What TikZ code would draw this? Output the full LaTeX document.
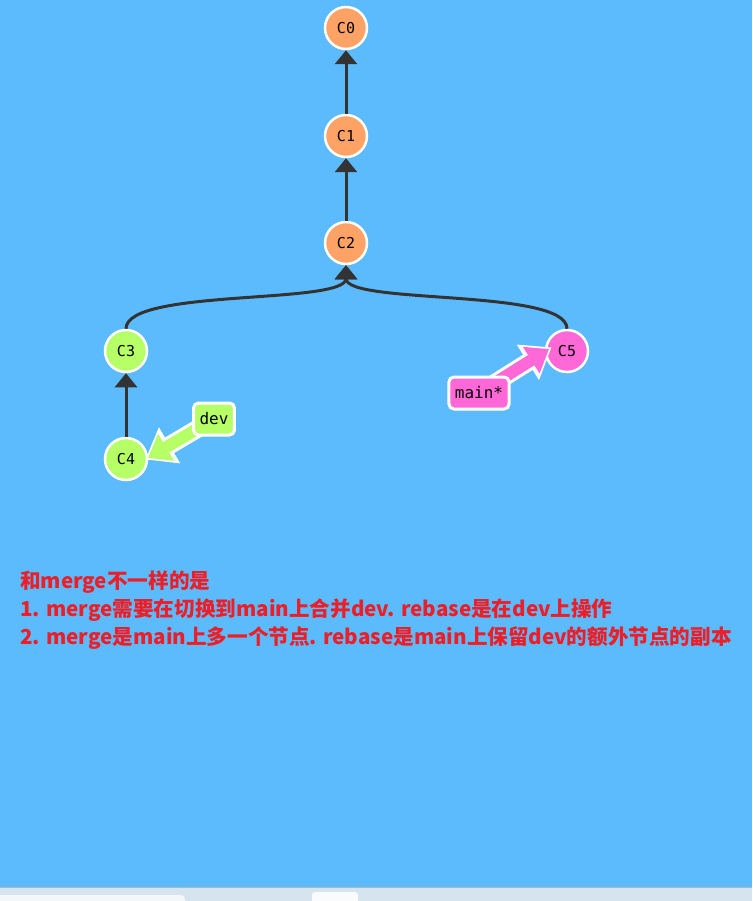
\documentclass[tikz,border=0pt]{standalone}
\usepackage{fontspec}
\newfontfamily\cjk{Noto Sans CJK SC}
\newfontfamily\cmono{DejaVu Sans Mono}
\usetikzlibrary{arrows.meta}
\definecolor{bgblue}{RGB}{92,187,252}
\definecolor{corange}{RGB}{255,162,102}
\definecolor{cgreen}{RGB}{182,255,102}
\definecolor{cpink}{RGB}{255,104,214}
\definecolor{darkline}{RGB}{51,51,51}
\definecolor{txtred}{RGB}{236,30,40}
\definecolor{barfill}{RGB}{214,228,240}
\definecolor{barline}{RGB}{170,182,194}
\pgfdeclarelayer{back}
\pgfdeclarelayer{arr}
\pgfdeclarelayer{front}
\pgfsetlayers{back,main,arr,front}
\tikzset{
  commit/.style={circle, minimum size=42pt, inner sep=0pt, draw=white, line width=2.5pt,
    font=\cmono\fontsize{15}{15}\selectfont},
  link/.style={draw=darkline, line width=3pt, -{Triangle[width=22pt,length=14pt]}},
  branch/.style={rounded corners=5pt, draw=white, line width=3pt, inner xsep=6pt,
    minimum height=32pt, font=\cmono\fontsize{16}{16}\selectfont},
  branchto/.style={draw=#1, line width=12pt, -{Triangle[width=30pt,length=21pt]},
    preaction={draw=white, line width=18pt, shorten >=-3pt, -{Triangle[width=40pt,length=28pt]}}},
  note/.style={anchor=base west, inner sep=0pt, text=txtred,
    font=\cjk\bfseries\fontsize{20.6}{20.6}\selectfont}
}
\begin{document}
\begin{tikzpicture}[x=1pt,y=-1pt]
\useasboundingbox (0,0) rectangle (752,901);
\begin{pgfonlayer}{back}
  \fill[bgblue] (0,0) rectangle (752,901);
  \fill[barfill] (0,887) rectangle (752,901);
  \draw[barline, line width=1pt] (0,887) -- (752,887);
  \begin{scope}
    \clip (0,0) rectangle (752,901);
    \fill[white!85!barfill, rounded corners=3pt] (312,892) rectangle (358,905);
    \fill[white!70!barfill, rounded corners=4pt] (-5,895) rectangle (185,905);
  \end{scope}
\end{pgfonlayer}
\node[commit, fill=corange] (C0) at (346,28) {C0};
\node[commit, fill=corange] (C1) at (346,136) {C1};
\node[commit, fill=corange] (C2) at (346,243) {C2};
\node[commit, fill=cgreen] (C3) at (126,351) {C3};
\node[commit, fill=cgreen] (C4) at (126,459) {C4};
\node[commit, fill=cpink] (C5) at (567,351) {C5};
\draw[link] (C1) -- (C0);
\draw[link] (C2) -- (C1);
\draw[link] (C4) -- (C3);
\draw[link] (C3.north) .. controls (126,288) and (346,305) .. (C2.south);
\draw[link] (C5.north) .. controls (567,288) and (346,305) .. (C2.south);
\begin{pgfonlayer}{front}
  \node[branch, fill=cgreen] (dev) at (214,419) {dev};
  \node[branch, fill=cpink] (main) at (479,393) {main*};
\end{pgfonlayer}
\coordinate (devtip) at (148,458);
\coordinate (maintip) at (549,349);
\begin{pgfonlayer}{arr}
  \draw[branchto=cgreen] (dev.center) -- (devtip);
  \draw[branchto=cpink] (main.center) -- (maintip);
\end{pgfonlayer}
\node[note] (t1) at (20,588) {和merge不一样的是};
\node[note] (t2) at (20,616) {1. merge需要在切换到main上合并dev. rebase是在dev上操作};
\node[note] (t3) at (20,644) {2. merge是main上多一个节点. rebase是main上保留dev的额外节点的副本};
\end{tikzpicture}
\end{document}
